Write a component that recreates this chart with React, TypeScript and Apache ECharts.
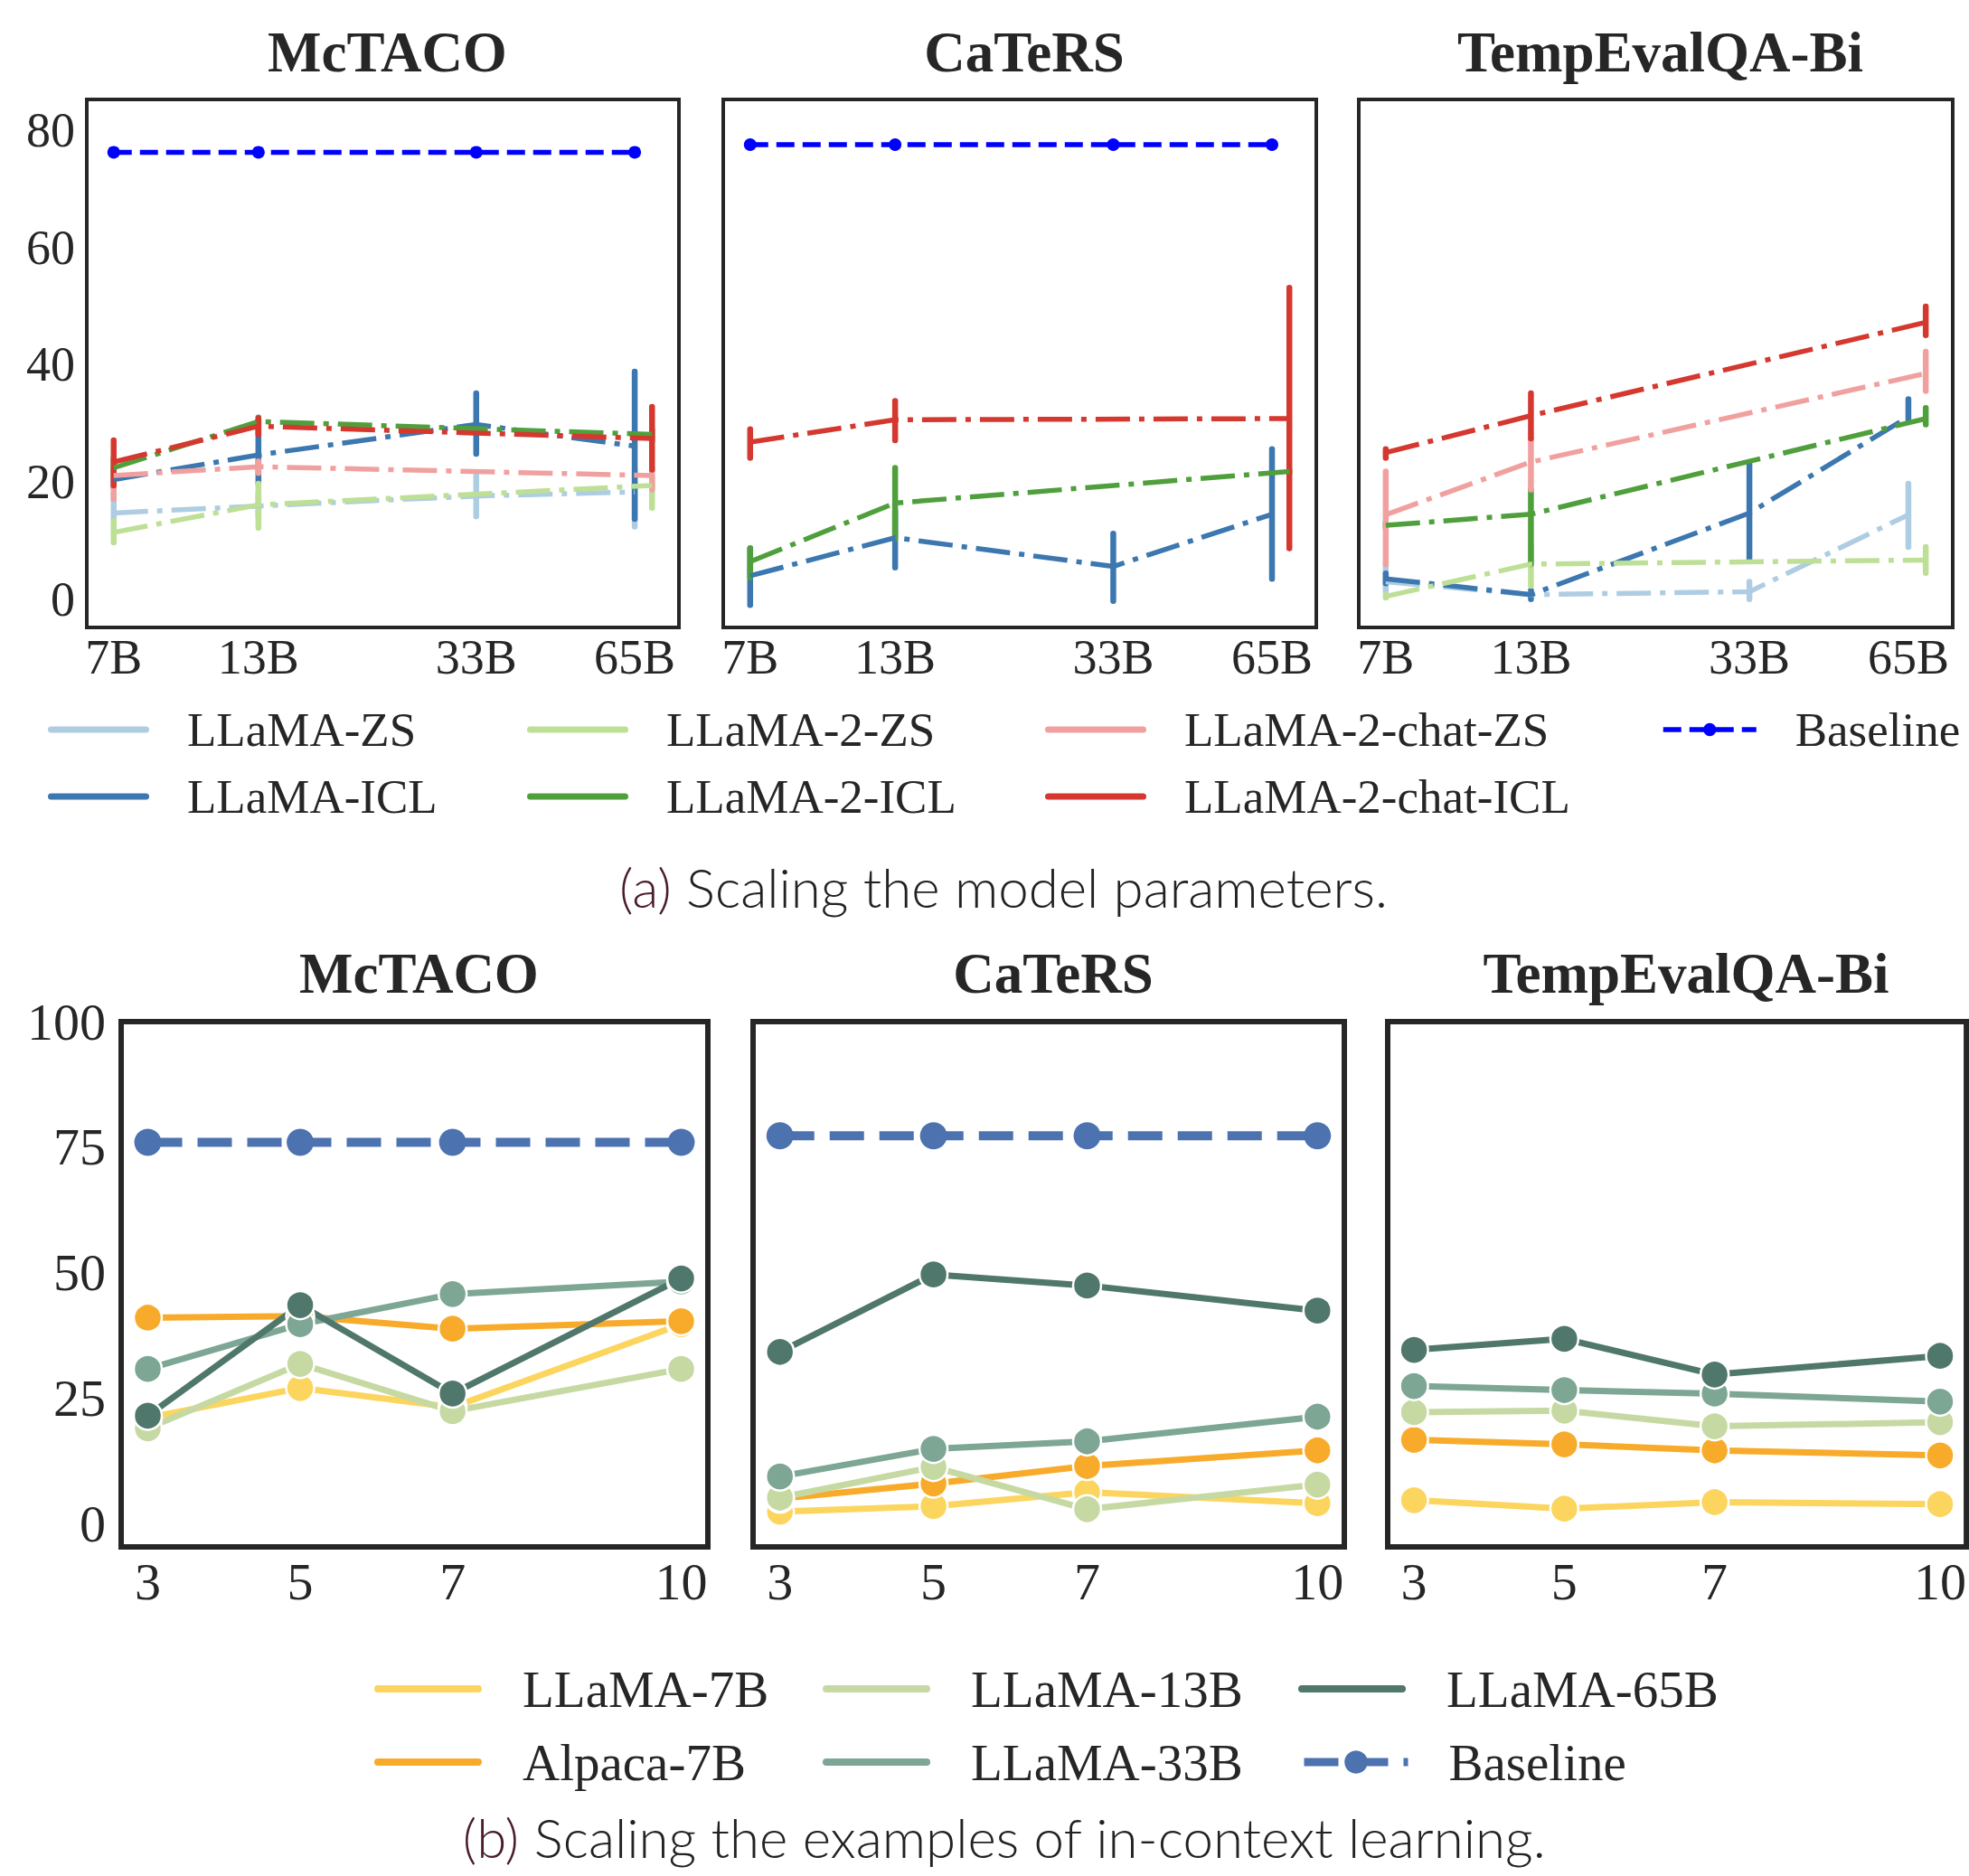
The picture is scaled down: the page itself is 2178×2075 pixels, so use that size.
import React, { useEffect, useRef } from 'react';
import * as echarts from 'echarts';

const W = 2178;
const H = 2075;
const SERIF = "'Liberation Serif', 'Times New Roman', serif";
const TXT = '#262626';

// ---------- (a) Scaling the model parameters ----------
const llamaSizes = [7, 13, 33, 65];
const llama2Sizes = [7, 13, 70];
const sizeTicks = [7, 13, 33, 65];
const topYTicks = [0, 20, 40, 60, 80];

// each entry: [mean, low, high]
const mctacoLlamaZS = [[14.7, 13.7, 18.0], [15.9, 14.0, 18.0], [17.6, 14.1, 21.1], [18.3, 12.4, 22.0]];
const mctacoLlamaICL = [[20.4, 19.0, 22.0], [24.6, 19.7, 28.8], [29.8, 24.8, 35.1], [26.1, 13.7, 38.8]];
const mctacoLlama2ZS = [[11.4, 9.7, 13.4], [16.1, 12.2, 19.7], [19.4, 15.6, 20.8]];
const mctacoLlama2ICL = [[22.4, 21.0, 24.0], [30.3, 29.0, 31.0], [28.1, 27.0, 29.0]];
const mctacoChatZS = [[21.1, 17.1, 21.5], [22.6, 21.5, 23.5], [21.1, 18.7, 22.4]];
const mctacoChatICL = [[23.4, 19.4, 27.1], [29.5, 28.1, 30.8], [27.4, 22.1, 32.8]];
const mctacoBaselineA = [76.2, 76.2, 76.2, 76.2];

const catersLlamaICL = [[4.0, -1.0, 8.7], [10.5, 5.4, 15.0], [5.6, -0.3, 11.2], [14.5, 3.5, 25.6]];
const catersLlama2ICL = [[6.4, 3.7, 8.7], [16.4, 10.4, 22.4], [21.8, 21.5, 22.1]];
const catersChatICL = [[26.8, 24.1, 29.0], [30.6, 27.1, 33.8], [30.8, 8.7, 53.1]];
const catersBaselineA = [77.5, 77.5, 77.5, 77.5];

const tempLlamaZS = [[3.0, 1.3, 6.0], [0.8, 0.5, 1.0], [1.3, 0.0, 3.0], [14.4, 8.9, 19.7]];
const tempLlamaICL = [[3.5, 2.7, 4.4], [0.8, 0.0, 1.5], [14.7, 6.7, 23.1], [31.1, 30.5, 34.1]];
const tempLlama2ZS = [[0.5, 0.3, 0.8], [6.0, 2.3, 9.0], [6.7, 4.5, 8.9]];
const tempLlama2ICL = [[12.6, 12.2, 13.0], [14.5, 6.0, 18.7], [30.8, 29.8, 32.6]];
const tempChatZS = [[14.4, 6.0, 21.8], [23.4, 18.7, 27.4], [38.5, 35.5, 42.2]];
const tempChatICL = [[25.0, 24.1, 25.6], [31.3, 27.4, 35.1], [47.2, 45.0, 49.9]];

// ---------- (b) Scaling the examples of in-context learning ----------
const exampleCounts = [3, 5, 7, 10];
const bottomYTicks = [0, 25, 50, 75, 100];

const mctacoLlama7B = [21.2, 27.1, 23.3, 39.8];
const mctacoAlpaca7B = [41.1, 41.4, 38.9, 40.4];
const mctacoLlama13B = [19.1, 31.9, 22.5, 30.9];
const mctacoLlama33B = [30.9, 39.8, 45.8, 48.3];
const mctacoLlama65B = [21.6, 43.6, 26.0, 48.9];
const mctacoBaselineB = [76.0, 76.0, 76.0, 76.0];

const catersLlama7B = [2.5, 3.6, 6.4, 4.2];
const catersAlpaca7B = [5.1, 8.1, 11.6, 14.7];
const catersLlama13B = [5.3, 11.4, 3.0, 7.9];
const catersLlama33B = [9.5, 15.0, 16.5, 21.4];
const catersLlama65B = [34.3, 49.7, 47.5, 42.5];
const catersBaselineB = [77.3, 77.3, 77.3, 77.3];

const tempLlama7B = [4.8, 3.1, 4.4, 4.0];
const tempAlpaca7B = [16.8, 15.9, 14.7, 13.7];
const tempLlama13B = [22.3, 22.6, 19.5, 20.3];
const tempLlama33B = [27.5, 26.7, 26.0, 24.4];
const tempLlama65B = [34.7, 36.9, 29.8, 33.5];

const datasetTitles = ['McTACO', 'CaTeRS', 'TempEvalQA-Bi'];

// ---------- layout ----------
const topGrids = [
  { left: 96, width: 655 },
  { left: 800, width: 656 },
  { left: 1503, width: 657 },
];
const TOP_Y = 110;
const TOP_H = 584;
const bottomGrids = [
  { left: 134, width: 649 },
  { left: 833, width: 654 },
  { left: 1535, width: 650 },
];
const BOT_Y = 1130;
const BOT_H = 581;

const topMeta = [
  { name: 'LLaMA-ZS', color: '#aecde2', sizes: llamaSizes },
  { name: 'LLaMA-ICL', color: '#3c77b0', sizes: llamaSizes },
  { name: 'LLaMA-2-ZS', color: '#bddf96', sizes: llama2Sizes },
  { name: 'LLaMA-2-ICL', color: '#4f9f3c', sizes: llama2Sizes },
  { name: 'LLaMA-2-chat-ZS', color: '#f0a19f', sizes: llama2Sizes },
  { name: 'LLaMA-2-chat-ICL', color: '#d4382f', sizes: llama2Sizes },
];
const topValues = [
  [mctacoLlamaZS, mctacoLlamaICL, mctacoLlama2ZS, mctacoLlama2ICL, mctacoChatZS, mctacoChatICL],
  [null, catersLlamaICL, null, catersLlama2ICL, null, catersChatICL],
  [tempLlamaZS, tempLlamaICL, tempLlama2ZS, tempLlama2ICL, tempChatZS, tempChatICL],
];
const topBaselines = [mctacoBaselineA, catersBaselineA, null];

const bottomMeta = [
  { name: 'LLaMA-7B', color: '#fcd55f' },
  { name: 'Alpaca-7B', color: '#f8ab2b' },
  { name: 'LLaMA-13B', color: '#c6d9a3' },
  { name: 'LLaMA-33B', color: '#7da694' },
  { name: 'LLaMA-65B', color: '#50776b' },
];
const bottomValues = [
  [mctacoLlama7B, mctacoAlpaca7B, mctacoLlama13B, mctacoLlama33B, mctacoLlama65B],
  [catersLlama7B, catersAlpaca7B, catersLlama13B, catersLlama33B, catersLlama65B],
  [tempLlama7B, tempAlpaca7B, tempLlama13B, tempLlama33B, tempLlama65B],
];
const bottomBaselines = [mctacoBaselineB, catersBaselineB, null];

function buildOption() {
  const grid: any[] = [];
  const xAxis: any[] = [];
  const yAxis: any[] = [];
  const series: any[] = [];
  const title: any[] = [];
  const legend: any[] = [];

  const xMinTop = Math.log(7) - 0.115;
  const xMaxTop = Math.log(70) + 0.115;

  topGrids.forEach((g, i) => {
    grid.push({
      left: g.left, top: TOP_Y, width: g.width, height: TOP_H,
      show: true, borderColor: TXT, borderWidth: 4, backgroundColor: 'transparent',
    });
    xAxis.push({
      gridIndex: i, type: 'value', min: xMinTop, max: xMaxTop,
      axisLine: { show: false }, axisTick: { show: false }, splitLine: { show: false },
      axisLabel: {
        customValues: sizeTicks.map((s) => Math.log(s)),
        formatter: (v: number) => `${Math.round(Math.exp(v))}B`,
        fontFamily: SERIF, fontSize: 54, color: TXT, margin: 6,
      },
    });
    yAxis.push({
      gridIndex: i, type: 'value', min: -4.8, max: 85.2,
      axisLine: { show: false }, axisTick: { show: false }, splitLine: { show: false },
      axisLabel: {
        show: i === 0, customValues: topYTicks,
        fontFamily: SERIF, fontSize: 54, color: TXT, margin: 13,
      },
    });
    title.push({
      text: datasetTitles[i], left: g.left + g.width / 2, top: 53,
      textAlign: 'center', textVerticalAlign: 'middle',
      textStyle: { fontFamily: SERIF, fontSize: 63, fontWeight: 'bold', color: TXT },
    });

    topMeta.forEach((m, k) => {
      const vals = topValues[i][k];
      if (!vals) return;
      series.push({
        type: 'line', name: m.name, xAxisIndex: i, yAxisIndex: i,
        color: m.color, symbol: 'none', showSymbol: false,
        data: m.sizes.map((s, j) => [Math.log(s), vals[j][0]]),
        lineStyle: { color: m.color, width: 5.5, type: [38, 10, 6, 10], cap: 'butt' },
        itemStyle: { color: m.color },
      });
      series.push({
        type: 'custom', name: m.name + ' error', xAxisIndex: i, yAxisIndex: i,
        silent: true, encode: { x: 0, y: [1, 2] },
        data: m.sizes.map((s, j) => [Math.log(s), vals[j][1], vals[j][2]]),
        renderItem: (params: any, api: any) => {
          const x = api.value(0);
          const p1 = api.coord([x, api.value(1)]);
          const p2 = api.coord([x, api.value(2)]);
          return {
            type: 'line',
            shape: { x1: p1[0], y1: p1[1], x2: p2[0], y2: p2[1] },
            style: { stroke: m.color, lineWidth: 6.5, lineCap: 'round' },
          };
        },
      });
    });
    const base = topBaselines[i];
    if (base) {
      series.push({
        type: 'line', name: 'Baseline', xAxisIndex: i, yAxisIndex: i,
        color: '#0000ff', symbol: 'circle', symbolSize: 14, showSymbol: true,
        data: llamaSizes.map((s, j) => [Math.log(s), base[j]]),
        lineStyle: { color: '#0000ff', width: 5.5, type: [20, 9] },
        itemStyle: { color: '#0000ff', borderWidth: 0 },
      });
    }
  });

  bottomGrids.forEach((g, i) => {
    const gi = 3 + i;
    grid.push({
      left: g.left, top: BOT_Y, width: g.width, height: BOT_H,
      show: true, borderColor: TXT, borderWidth: 6, backgroundColor: 'transparent',
    });
    xAxis.push({
      gridIndex: gi, type: 'value', min: 2.65, max: 10.35,
      axisLine: { show: false }, axisTick: { show: false }, splitLine: { show: false },
      axisLabel: {
        customValues: exampleCounts,
        fontFamily: SERIF, fontSize: 58, color: TXT, margin: 9,
      },
    });
    yAxis.push({
      gridIndex: gi, type: 'value', min: -4.5, max: 100,
      axisLine: { show: false }, axisTick: { show: false }, splitLine: { show: false },
      axisLabel: {
        show: i === 0, customValues: bottomYTicks,
        fontFamily: SERIF, fontSize: 58, color: TXT, margin: 17,
      },
    });
    title.push({
      text: datasetTitles[i], left: g.left + g.width / 2, top: 1072,
      textAlign: 'center', textVerticalAlign: 'middle',
      textStyle: { fontFamily: SERIF, fontSize: 63, fontWeight: 'bold', color: TXT },
    });
    bottomMeta.forEach((m, k) => {
      const vals = bottomValues[i][k];
      series.push({
        type: 'line', name: m.name, xAxisIndex: gi, yAxisIndex: gi,
        color: m.color, symbol: 'circle', symbolSize: 31, showSymbol: true,
        data: exampleCounts.map((x, j) => [x, vals[j]]),
        lineStyle: { color: m.color, width: 7 },
        itemStyle: { color: m.color, borderColor: '#ffffff', borderWidth: 2.5 },
      });
    });
    const base = bottomBaselines[i];
    if (base) {
      series.push({
        type: 'line', name: 'Baseline (b)', xAxisIndex: gi, yAxisIndex: gi,
        color: '#4c72b0', symbol: 'circle', symbolSize: 30, showSymbol: true,
        data: exampleCounts.map((x, j) => [x, base[j]]),
        lineStyle: { color: '#4c72b0', width: 10, type: [38, 17] },
        itemStyle: { color: '#4c72b0', borderWidth: 0 },
      });
    }
  });

  // captions
  const capFs = 60;
  const capLh = 54;
  title.push({
    text: '{p|(a)} Scaling the model parameters.', left: 1105, top: 976,
    textAlign: 'center', textVerticalAlign: 'middle',
    textStyle: {
      fontFamily: 'Lato', fontWeight: 300, fontSize: capFs, lineHeight: capLh, color: '#222222',
      rich: { p: { fontFamily: 'Lato', fontWeight: 300, fontSize: capFs, lineHeight: capLh, color: '#4a1c2c' } },
    },
  });
  title.push({
    text: '{p|(b)} Scaling the examples of in-context learning.', left: 1106, top: 2027,
    textAlign: 'center', textVerticalAlign: 'middle',
    textStyle: {
      fontFamily: 'Lato', fontWeight: 300, fontSize: capFs, lineHeight: capLh, color: '#222222',
      rich: { p: { fontFamily: 'Lato', fontWeight: 300, fontSize: capFs, lineHeight: capLh, color: '#4a1c2c' } },
    },
  });

  // legends (a)
  const capsuleTop = 'path://M3.5,0H108.5A3.5,3.5,0,0,1,108.5,7H3.5A3.5,3.5,0,0,1,3.5,0Z';
  const topRows = [807, 881];
  const topCols = [53, 583, 1156];
  const topFs = 53;
  topMeta.forEach((m, k) => {
    const col = Math.floor(k / 2);
    const row = k % 2;
    legend.push({
      show: true, padding: 0, left: topCols[col], top: topRows[row] - topFs / 2,
      itemWidth: 112, itemHeight: 7, selectedMode: false,
      itemStyle: { borderWidth: 0 },
      data: [{ name: m.name, icon: capsuleTop }],
      textStyle: { fontFamily: SERIF, fontSize: topFs, color: TXT, padding: [0, 0, 0, 37] },
    });
  });
  legend.push({
    show: true, padding: 0, left: 1837, top: topRows[0] - topFs / 2,
    itemWidth: 103, itemHeight: 18, selectedMode: false,
    lineStyle: { width: 5.5 },
    data: [{ name: 'Baseline' }],
    textStyle: { fontFamily: SERIF, fontSize: topFs, color: TXT, padding: [0, 0, 0, 38] },
  });

  // legends (b)
  const capsuleBot = 'path://M4,0H115A4,4,0,0,1,115,8H4A4,4,0,0,1,4,0Z';
  const botRows = [1868, 1949];
  const botCols = [414, 910, 1436];
  const botFs = 57;
  bottomMeta.forEach((m, k) => {
    const col = Math.floor(k / 2);
    const row = k % 2;
    legend.push({
      show: true, padding: 0, left: botCols[col], top: botRows[row] - botFs / 2,
      itemWidth: 119, itemHeight: 8, selectedMode: false,
      itemStyle: { borderWidth: 0 },
      data: [{ name: m.name, icon: capsuleBot }],
      textStyle: { fontFamily: SERIF, fontSize: botFs, color: TXT, padding: [0, 0, 0, 40] },
    });
  });
  legend.push({
    show: true, padding: 0, left: 1438, top: botRows[1] - botFs / 2,
    itemWidth: 115, itemHeight: 32, selectedMode: false,
    formatter: 'Baseline',
    lineStyle: { width: 9 },
    data: [{ name: 'Baseline (b)' }],
    textStyle: { fontFamily: SERIF, fontSize: botFs, color: TXT, padding: [0, 0, 0, 40] },
  });

  return {
    animation: false,
    backgroundColor: '#ffffff',
    title, legend, grid, xAxis, yAxis, series,
  };
}

export default function App() {
  const ref = useRef<HTMLDivElement>(null);
  useEffect(() => {
    if (!ref.current) return;
    const chart = echarts.init(ref.current, null, { renderer: 'svg' });
    chart.setOption(buildOption() as any);
    return () => chart.dispose();
  }, []);
  return (
    <div
      ref={ref}
      style={{ position: 'absolute', left: 0, top: 0, width: W, height: H, background: '#fff' }}
    />
  );
}
